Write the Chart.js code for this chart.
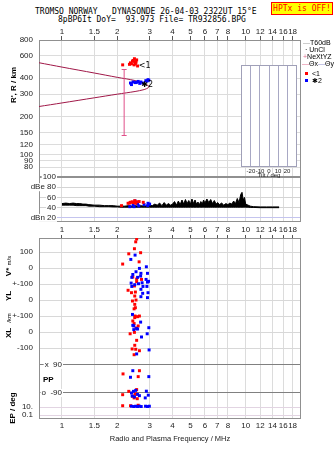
<!DOCTYPE html>
<html>
<head>
<meta charset="utf-8">
<script src="https://cdn.jsdelivr.net/npm/chart.js@4.4.1/dist/chart.umd.min.js"></script>
<style>
  body { margin: 0; background: #fff; }
  #wrap { position: relative; width: 335px; height: 451px; overflow: hidden; font-family: 'Liberation Sans', Arial, sans-serif; }
  canvas { position: absolute; }
  .t { position: absolute; white-space: pre; color: #000; line-height: 1; }
  .mono { font-family: 'DejaVu Sans Mono', monospace; font-size: 8px; }
  .rot { transform: translate(-50%, -50%) rotate(-90deg); font-weight: bold; font-size: 8px; }
  .lg { font-size: 7px; }
</style>
</head>
<body>
<div id="wrap">
  <div class="t mono" style="left:35px;top:8px">TROMSO NORWAY   DYNASONDE 26-04-03 2322UT 15°E</div>
  <div class="t mono" style="left:58px;top:16px">8pBP6It DoY=  93.973 File= TR932856.BPG</div>
  <div class="t mono" style="left:271px;top:2px;width:60px;height:11px;background:#ffff00;border:1px solid #ff0000;color:#ff0000;text-align:center;line-height:11px">HPTx is OFF!</div>

  <canvas id="heightChart" width="335" height="178" style="left:0;top:0"></canvas>
  <canvas id="ampChart" width="335" height="64" style="left:0;top:172px"></canvas>
  <canvas id="velChart" width="335" height="217" style="left:0;top:234px"></canvas>
  <canvas id="tiltChart" width="66" height="121" style="left:236px;top:60px"></canvas>

  <!-- legenda à direita -->
  <div class="t lg" style="left:303px;top:39px"><span style="color:#a0a0a0">—</span>T60dB</div>
  <div class="t lg" style="left:305px;top:46px">·&nbsp;UnCl</div>
  <div class="t lg" style="left:303px;top:53px"><span style="color:#e07090">+</span>NeXtYZ</div>
  <div class="t lg" style="left:302px;top:60px"><span style="color:#e07090">—</span>Θx<span style="color:#9090d0">—</span>Θy</div>
  <div class="t lg" style="left:305px;top:70px"><span style="display:inline-block;width:3px;height:3px;background:#f00;margin-right:4px;vertical-align:1px"></span>&lt;1</div>
  <div class="t lg" style="left:305px;top:77px"><span style="display:inline-block;width:3px;height:3px;background:#00f;margin-right:4px;vertical-align:1px"></span>✱2</div>

  <!-- rótulos laterais -->
  <div class="t rot" style="left:14px;top:85px">R', R / km</div>
  <div class="t rot" style="left:9px;top:266px">V* <span style="font-size:6px;font-weight:normal">m/s</span></div>
  <div class="t rot" style="left:9px;top:296px">YL</div>
  <div class="t rot" style="left:9px;top:318px;font-size:6px;font-weight:normal">/km</div>
  <div class="t rot" style="left:9px;top:333px">XL</div>
  <div class="t" style="left:43px;top:376px;font-size:8px;font-weight:bold">PP</div>
  <div class="t rot" style="left:13px;top:408px">EP / deg</div>
</div>

<script>
(function () {
  'use strict';

  // ---------- Eixos ----------
  const fMin = 0.75, fMax = 20;
  const freqTicks = [1, 1.5, 2, 3, 4, 5, 6, 7, 8, 10, 12, 14, 16, 18];
  const heightTicks = [80, 90, 100, 120, 150, 200, 300, 400, 600, 800];
  const ampTicks = [20, 40, 60, 80, 100];
  const ampLabels = ['dBn 20', '40', '60', 'dBe 80', '100'];
  const velTicks = [-919, -869, -781, -606, -500, -400, -300, -200, -100, 0, 100];
  const velLabels = ['0.1', '10.', '', '', '-100', '0', '+-100', '0', '+-100', '0', '100'];
  const velInnerVals = [-606, -781];
  const velInnerText = ['x  90', 'o  -90'];
  const tiltTicks = [-20, -10, 0, 10, 20];

  // ---------- Perfil modelo (curva) ----------
  const traceF = [0.75, 1.0, 1.5, 2.0, 2.5, 2.8, 2.95, 2.98, 2.95, 2.8, 2.5, 2.0, 1.5, 1.0, 0.75];
  const traceH = [530, 490, 440, 407, 384, 364, 350, 345, 337, 326, 315, 300, 281, 256, 240];
  const errF = [2.18, 2.18];
  const errH = [142, 469];

  // ---------- Ecos (altura) ----------
  const oHeightF = [2.14, 2.36, 2.44, 2.49, 2.55, 2.47, 2.51, 2.39, 2.58, 2.33, 2.48, 2.53, 2.42];
  const oHeightH = [510, 529, 552, 541, 558, 510, 520, 520, 500, 515, 570, 535, 545];
  const xHeightF = [2.36, 2.44, 2.51, 2.60, 2.69, 2.76, 2.86, 2.94, 2.97, 2.39, 2.55, 2.65, 2.90];
  const xHeightH = [367, 374, 370, 378, 374, 367, 383, 390, 386, 357, 372, 365, 380];
  const tagF = [2.62, 2.70];
  const tagH = [500, 355];
  const tagText = ['<1', '✱2'];

  // ---------- Amplitude ----------
  const noiseF = [1.00, 1.05, 1.10, 1.15, 1.20, 1.25, 1.30, 1.35, 1.40,
    1.50, 1.60, 1.70, 1.80, 1.90, 2.00,
    2.10, 2.20, 2.30, 2.40, 2.50, 2.60, 2.70, 2.80, 2.90, 3.00,
    3.10, 3.20, 3.30, 3.40, 3.50, 3.60, 3.70, 3.80, 3.90, 4.00,
    4.10, 4.20, 4.30, 4.40, 4.50, 4.60, 4.70, 4.80, 4.90, 5.00,
    5.10, 5.20, 5.30, 5.40, 5.50, 5.60, 5.70, 5.80, 5.90, 6.00,
    6.15, 6.30, 6.45, 6.60, 6.75, 6.90, 7.05, 7.20,
    7.40, 7.60, 7.80, 8.00, 8.20, 8.40, 8.60, 8.80, 9.00, 9.20, 9.40,
    9.55, 9.70, 9.85, 10.0,
    10.3, 10.6, 11.0, 12.0, 13.0, 14.0, 15.2];
  const noiseHigh = [48, 49, 48, 49, 48, 48, 47, 47, 46,
    45, 45, 44, 44, 44, 43,
    43, 43, 44, 43, 44, 43, 44, 43, 44, 45,
    44, 47, 45, 49, 44, 50, 45, 48, 45, 47,
    52, 45, 53, 46, 55, 47, 56, 48, 54, 47,
    57, 48, 55, 47, 51, 46, 52, 47, 55, 49,
    57, 50, 56, 48, 54, 47, 50, 46,
    49, 45, 48, 46, 49, 47, 53, 48, 58, 50, 66,
    70, 55, 60, 47,
    45, 43, 42, 41.5, 41.5, 41.5, 41.5];
  const noiseLow = [45, 45, 45, 45, 44, 44, 44, 44, 43,
    43, 42, 42, 42, 41.5, 41.5,
    41, 41, 41, 41, 41, 41, 41, 41, 41, 41,
    41, 41, 41, 41, 41, 41, 41, 41, 41, 41,
    41, 41, 41, 41, 41, 41, 41, 41, 41, 41,
    41, 41, 41, 41, 41, 41, 41, 41, 41, 41,
    41, 41, 41, 41, 41, 41, 41, 41,
    41, 41, 41, 41, 41, 41, 41, 41, 41, 41, 41,
    41, 41, 41, 41,
    41, 40.5, 40.5, 40, 40, 40, 40];
  const oAmpF = [2.11, 2.29, 2.36, 2.41, 2.49, 2.56, 2.63, 2.77, 2.52, 2.45, 2.33];
  const oAmpDb = [44, 48.6, 50.5, 51.5, 53.7, 51.5, 52, 50.5, 48.6, 50, 49];
  const xAmpF = [2.34, 2.44, 2.50, 2.58, 2.62, 2.80, 2.94, 3.00, 2.93, 2.55, 2.47];
  const xAmpDb = [42, 45.5, 53, 47.6, 43.5, 46, 48.6, 47, 44, 50, 42];

  // ---------- Velocidade / localização / polarização ----------
  const oVelF = [2.55, 2.52, 2.48, 2.31, 2.68, 2.14, 2.63, 2.43, 2.55, 2.71, 2.55, 2.48, 2.29, 2.39, 2.51,
    2.49, 2.53, 2.42, 2.49, 2.51, 2.47, 2.50, 2.49, 2.43, 2.58, 2.64, 2.47, 2.60, 2.53, 2.35,
    2.48, 2.55, 2.49, 2.41, 2.52, 2.47, 2.64, 2.15, 2.64, 2.60, 2.31, 2.55, 2.53, 2.42, 2.47,
    2.14, 2.57, 2.50, 2.14, 2.36, 2.60];
  const oVelV = [182, 164, 121, 89, 96, 25, 39, -56, -69, -71, -85, -112, -139, -154, -150,
    -175, -200, -206, -227, -248, -255, -300, -310, -331, -304, -300, -347, -362, -375, -411,
    -402, -452, -483, -506, -508, -542, -517, -662, -642, -679, -771, -760, -787, -802, -812,
    -792, -817, -790, -861, -861, -858];
  const xVelF = [2.37, 2.50, 2.88, 2.64, 2.53, 2.43, 2.69, 2.40, 2.68, 2.58, 2.92, 2.87, 2.96, 2.92, 2.73,
    2.61, 2.38, 2.49, 2.40, 2.76, 2.90, 2.69, 2.94, 2.75, 2.92, 2.69, 2.42, 2.46, 2.43, 2.55,
    2.68, 2.97, 2.91, 2.71, 2.55, 2.98, 2.46, 2.58, 2.43, 2.36, 2.97, 2.39, 2.45, 2.52, 2.58,
    2.64, 2.88, 2.95, 2.84, 2.48, 2.41, 2.39, 2.46, 2.52, 2.58, 2.64, 2.70, 2.85, 2.92, 2.99];
  const xVelV = [54, 81, 8, -2, -23, -40, -33, -58, -50, -58, -33, -71, -83, -88, -92,
    -98, -94, -104, -115, -115, -115, -133, -154, -158, -185, -179, -290, -362, -358, -379,
    -338, -373, -411, -431, -537, -512, -385, -381, -642, -683, -679, -781, -771, -765, -790,
    -798, -770, -795, -812, -806, -800, -864, -866, -864, -866, -864, -866, -864, -866, -864];

  // ---------- Defaults ----------
  Chart.defaults.font.family = "'Liberation Sans', Arial, sans-serif";
  Chart.defaults.font.size = 8;
  Chart.defaults.color = '#222';
  Chart.defaults.animation = false;
  Chart.defaults.responsive = false;
  Chart.defaults.layout.autoPadding = false;
  Chart.defaults.plugins.legend.display = false;
  Chart.defaults.plugins.tooltip.enabled = false;

  const pts = (xs, ys) => xs.map((x, i) => ({ x: x, y: ys[i] }));
  const RED = '#ff0000', BLUE = '#0000ff';
  const scatterSet = (data, color) => ({
    type: 'scatter', data: data, pointStyle: 'rect', pointRadius: 2.1,
    backgroundColor: color, borderWidth: 0, pointBorderWidth: 0
  });
  // sem margens extras para rótulos: a área do gráfico fica fixa
  const noPad = s => { s.paddingTop = 0; s.paddingBottom = 0; s.paddingLeft = 0; s.paddingRight = 0; };

  // moldura do painel
  const frame = {
    id: 'frame',
    beforeDatasetsDraw(chart, args, opts) {
      const a = chart.chartArea, ctx = chart.ctx;
      ctx.save();
      ctx.strokeStyle = opts.color || '#909090';
      ctx.lineWidth = 1;
      ctx.strokeRect(a.left + 0.5, a.top + 0.5, a.right - a.left - 1, a.bottom - a.top - 1);
      ctx.restore();
    }
  };

  // rótulos dentro da área, com fundo branco
  function innerLabels(id, vals, texts, dx) {
    return {
      id: id,
      afterDraw(chart) {
        const ctx = chart.ctx, ys = chart.scales.y, right = chart.chartArea.left + dx;
        ctx.save();
        ctx.font = "8px 'Liberation Sans', Arial, sans-serif";
        ctx.textBaseline = 'middle';
        ctx.textAlign = 'right';
        texts.forEach((t, i) => {
          const y = ys.getPixelForValue(vals[i]);
          const w = ctx.measureText(t).width;
          ctx.fillStyle = '#fff';
          ctx.fillRect(right - w - 1, y - 4, w + 2, 8);
          ctx.fillStyle = '#222';
          ctx.fillText(t, right, y);
        });
        ctx.restore();
      }
    };
  }

  function freqAxis(pos, h, pad, tickLen, title) {
    return {
      type: 'logarithmic', position: pos, min: fMin, max: fMax, bounds: 'data',
      afterBuildTicks: s => { s.ticks = freqTicks.map(v => ({ value: v })); },
      afterFit: s => { s.height = h; noPad(s); },
      border: { display: false },
      grid: { color: '#dcdcdc', drawTicks: tickLen > 0, tickLength: tickLen, tickColor: '#555' },
      ticks: {
        autoSkip: false, maxRotation: 0, minRotation: 0, padding: pad,
        font: { size: 8, lineHeight: 1 }, callback: v => String(v)
      },
      title: title ? {
        display: true, text: title, color: '#222',
        font: { size: 7.5, lineHeight: 1.2 }, padding: { top: 0, bottom: 7.5 }
      } : { display: false }
    };
  }

  // ---------- Painel de altura ----------
  new Chart(document.getElementById('heightChart'), {
    type: 'scatter',
    data: {
      datasets: [
        scatterSet(pts(oHeightF, oHeightH), RED),
        scatterSet(pts(xHeightF, xHeightH), BLUE),
        {
          type: 'line', data: pts(errF, errH), borderColor: '#e0508a', borderWidth: 1,
          pointStyle: 'line', pointRadius: 2.5, pointBorderColor: '#e0508a', pointBorderWidth: 1
        },
        {
          type: 'line', data: pts(traceF, traceH), borderColor: '#a01848', borderWidth: 1,
          pointRadius: 0, tension: 0.3
        }
      ]
    },
    options: {
      layout: { padding: { left: 0, right: 34, top: 0, bottom: 1 } },
      scales: {
        x: freqAxis('top', 40, 0, 4, null),
        y: {
          type: 'logarithmic', min: 67, max: 800, bounds: 'data',
          afterBuildTicks: s => { s.ticks = heightTicks.map(v => ({ value: v })); },
          afterFit: s => { s.width = 39; noPad(s); },
          border: { display: false },
          grid: { color: '#dcdcdc', drawTicks: false },
          ticks: { padding: 6, callback: v => String(v) }
        }
      }
    },
    plugins: [frame, {
      id: 'tags',
      afterDatasetsDraw(chart) {
        const ctx = chart.ctx, xs = chart.scales.x, ys = chart.scales.y;
        ctx.save();
        ctx.fillStyle = '#000';
        ctx.font = "8px 'DejaVu Sans'";
        ctx.textBaseline = 'middle';
        tagText.forEach((t, i) => ctx.fillText(t, xs.getPixelForValue(tagF[i]), ys.getPixelForValue(tagH[i])));
        ctx.restore();
      }
    }]
  });

  // ---------- Painel de amplitude ----------
  new Chart(document.getElementById('ampChart'), {
    type: 'scatter',
    data: {
      datasets: [
        scatterSet(pts(oAmpF, oAmpDb), RED),
        scatterSet(pts(xAmpF, xAmpDb), BLUE),
        {
          type: 'line', data: pts(noiseF, noiseHigh), borderColor: '#000', borderWidth: 1,
          pointRadius: 0, fill: '+1', backgroundColor: '#000'
        },
        {
          type: 'line', data: pts(noiseF, noiseLow), borderColor: '#000', borderWidth: 1,
          pointRadius: 0
        }
      ]
    },
    options: {
      layout: { padding: { left: 0, right: 34, top: 5, bottom: 0 } },
      scales: {
        x: freqAxis('bottom', 14, 4, 0, null),
        y: {
          type: 'linear', min: 12, max: 100,
          afterBuildTicks: s => { s.ticks = ampTicks.map(v => ({ value: v })); },
          afterFit: s => { s.width = 39; noPad(s); },
          border: { display: false },
          grid: {
            drawTicks: false,
            color: c => (c.tick && c.tick.value === 100) ? '#808080'
              : (c.tick && c.tick.value === 20) ? '#c4c4ee' : '#d4d4d4'
          },
          ticks: { display: false }
        }
      }
    },
    plugins: [frame, innerLabels('ampLabels', ampTicks, ampLabels, 17)]
  });

  // ---------- Painel de velocidade / polarização ----------
  new Chart(document.getElementById('velChart'), {
    type: 'scatter',
    data: {
      datasets: [
        scatterSet(pts(xVelF, xVelV), BLUE),
        scatterSet(pts(oVelF, oVelV), RED)
      ]
    },
    options: {
      layout: { padding: { left: 0, right: 34, top: 1, bottom: 0 } },
      scales: {
        x: freqAxis('bottom', 32, 3, 0, 'Radio and Plasma Frequency / MHz'),
        x2: {
          type: 'logarithmic', position: 'top', min: fMin, max: fMax, bounds: 'data',
          afterBuildTicks: s => { s.ticks = freqTicks.map(v => ({ value: v })); },
          afterFit: s => { s.height = 3; noPad(s); },
          border: { display: false },
          grid: { drawOnChartArea: false, tickLength: 3, tickColor: '#555' },
          ticks: { display: false }
        },
        y: {
          type: 'linear', min: -944, max: 188,
          afterBuildTicks: s => { s.ticks = velTicks.map(v => ({ value: v })); },
          afterFit: s => { s.width = 39; noPad(s); },
          border: { display: false },
          grid: {
            drawTicks: false,
            color: c => (c.tick && (c.tick.value === -606 || c.tick.value === -781)) ? '#808080'
              : (c.tick && c.tick.value < -800) ? '#e2d4e2' : '#d8d8d8'
          },
          ticks: { padding: 6, callback: v => velLabels[velTicks.indexOf(v)] }
        }
      }
    },
    plugins: [frame, innerLabels('velInner', velInnerVals, velInnerText, 23)]
  });

  // ---------- Inserto de inclinação (Tilt) ----------
  new Chart(document.getElementById('tiltChart'), {
    type: 'scatter',
    data: { datasets: [] },
    options: {
      layout: { padding: { left: 5, right: 5, top: 5, bottom: 0 } },
      scales: {
        x: {
          type: 'linear', position: 'bottom', min: -31, max: 31,
          afterBuildTicks: s => { s.ticks = tiltTicks.map(v => ({ value: v })); },
          afterFit: s => { s.height = 14; noPad(s); },
          border: { display: false },
          grid: { color: '#a8a8c4', drawTicks: false },
          ticks: { autoSkip: false, maxRotation: 0, padding: 1, font: { size: 6, lineHeight: 1 } },
          title: { display: true, text: 'Tilt / deg', font: { size: 6, lineHeight: 1.2 }, padding: { top: 0, bottom: 2.4 } }
        },
        y: { display: false, min: 0, max: 1 }
      },
      plugins: { frame: { color: '#a0a0b8' } }
    },
    plugins: [{
      id: 'whiteBox',
      beforeDraw(chart) {
        const a = chart.chartArea, ctx = chart.ctx;
        ctx.save();
        ctx.fillStyle = '#fff';
        ctx.fillRect(a.left, a.top, a.right - a.left, a.bottom - a.top);
        ctx.restore();
      }
    }, frame]
  });
})();
</script>
</body>
</html>
